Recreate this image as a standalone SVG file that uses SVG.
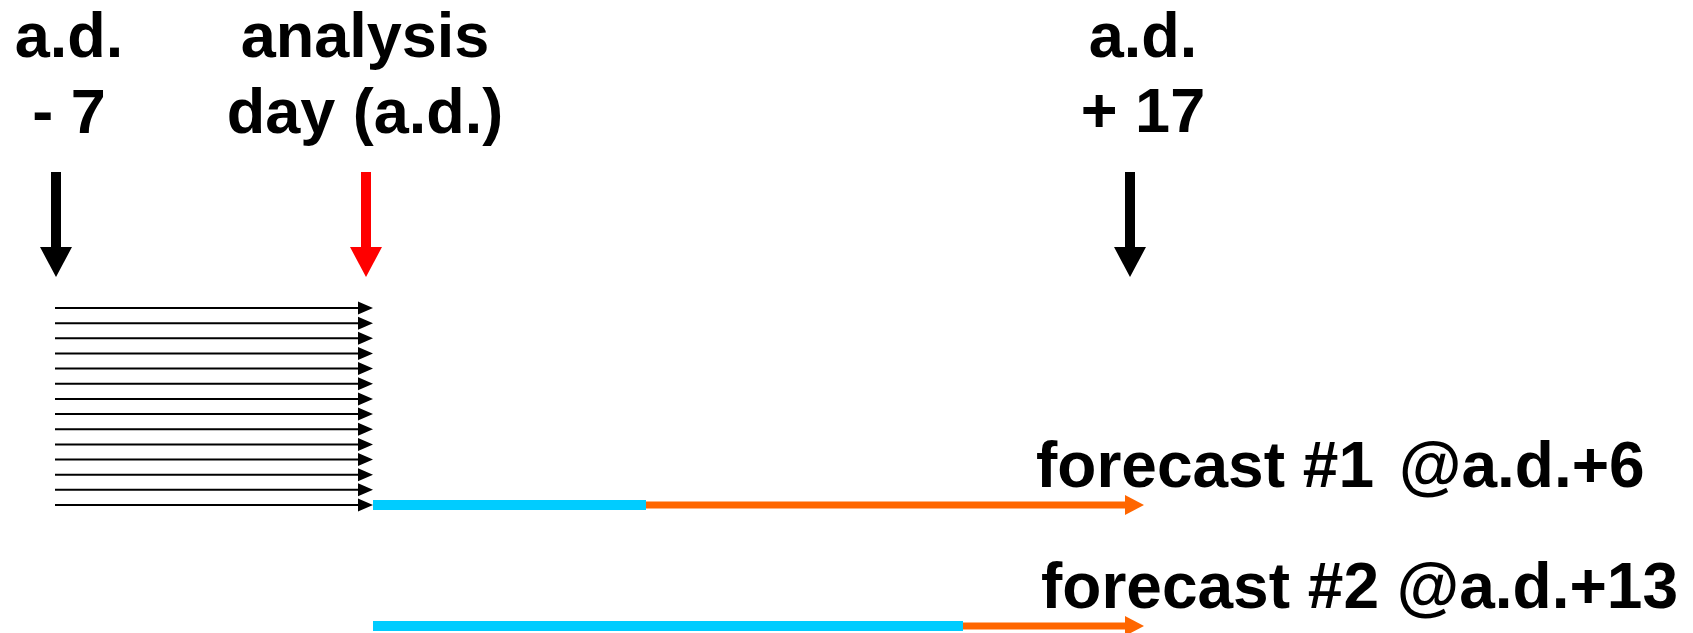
<svg xmlns="http://www.w3.org/2000/svg" width="1693" height="633" viewBox="0 0 1693 633">
  <style>
    .t { font-family: "Liberation Sans", Arial, sans-serif; font-weight: bold; font-size: 63px; fill: #000; }
    .tf { font-family: "Liberation Sans", Arial, sans-serif; font-weight: bold; font-size: 64px; fill: #000; }
    .ens { stroke: #000; stroke-width: 2; fill: none; }
    .cyan { stroke: #00CCFF; stroke-width: 10; fill: none; }
    .orange { stroke: #FF6600; stroke-width: 7; fill: none; }
  </style>
  <defs>
    <marker id="headBlack" markerUnits="userSpaceOnUse" markerWidth="15" markerHeight="14" refX="0" refY="7" orient="auto" overflow="visible">
      <path d="M0,0.5 L15,7 L0,13.5 Z" fill="#000"/>
    </marker>
  </defs>
  <rect width="1693" height="633" fill="#fff"/>

  <g id="label-ad-minus7">
    <text class="t" x="69" y="57" text-anchor="middle">a.d.</text>
    <text class="t" x="69" y="133" text-anchor="middle">- 7</text>
  </g>
  <g id="label-analysis-day">
    <text class="t" x="365" y="57" text-anchor="middle">analysis</text>
    <text class="t" x="365" y="133" text-anchor="middle">day (a.d.)</text>
  </g>
  <g id="label-ad-plus17">
    <text class="t" x="1143" y="57" text-anchor="middle">a.d.</text>
    <text class="t" x="1143" y="132" text-anchor="middle">+ 17</text>
  </g>
  <g id="label-forecast1">
    <text class="tf" x="1036" y="487">forecast #1 <tspan x="1399">@a.d.+6</tspan></text>
  </g>
  <g id="label-forecast2">
    <text class="tf" x="1041" y="608">forecast #2 @a.d.+13</text>
  </g>

  <g id="connectors">
    <g id="arrow-ad-minus7">
      <rect x="51" y="172" width="10" height="76" fill="#000"/>
      <polygon points="40,247 72,247 56,277" fill="#000"/>
    </g>
    <g id="arrow-analysis">
      <rect x="361" y="172" width="10" height="76" fill="#FF0000"/>
      <polygon points="350,247 382,247 366,277" fill="#FF0000"/>
    </g>
    <g id="arrow-ad-plus17">
      <rect x="1125" y="172" width="10" height="76" fill="#000"/>
      <polygon points="1114,247 1146,247 1130,277" fill="#000"/>
    </g>

    <g id="ensemble">
      <line class="ens" x1="55" y1="308" x2="358" y2="308" marker-end="url(#headBlack)"/>
      <line class="ens" x1="55" y1="323.2" x2="358" y2="323.2" marker-end="url(#headBlack)"/>
      <line class="ens" x1="55" y1="338.3" x2="358" y2="338.3" marker-end="url(#headBlack)"/>
      <line class="ens" x1="55" y1="353.5" x2="358" y2="353.5" marker-end="url(#headBlack)"/>
      <line class="ens" x1="55" y1="368.6" x2="358" y2="368.6" marker-end="url(#headBlack)"/>
      <line class="ens" x1="55" y1="383.8" x2="358" y2="383.8" marker-end="url(#headBlack)"/>
      <line class="ens" x1="55" y1="398.9" x2="358" y2="398.9" marker-end="url(#headBlack)"/>
      <line class="ens" x1="55" y1="414.1" x2="358" y2="414.1" marker-end="url(#headBlack)"/>
      <line class="ens" x1="55" y1="429.2" x2="358" y2="429.2" marker-end="url(#headBlack)"/>
      <line class="ens" x1="55" y1="444.4" x2="358" y2="444.4" marker-end="url(#headBlack)"/>
      <line class="ens" x1="55" y1="459.5" x2="358" y2="459.5" marker-end="url(#headBlack)"/>
      <line class="ens" x1="55" y1="474.7" x2="358" y2="474.7" marker-end="url(#headBlack)"/>
      <line class="ens" x1="55" y1="489.8" x2="358" y2="489.8" marker-end="url(#headBlack)"/>
      <line class="ens" x1="55" y1="505" x2="358" y2="505" marker-end="url(#headBlack)"/>
    </g>

    <g id="forecast1-line">
      <line class="cyan" x1="373" y1="505" x2="646" y2="505"/>
      <line class="orange" x1="646" y1="505" x2="1126" y2="505"/>
      <polygon points="1125,495 1144,505 1125,515" fill="#FF6600"/>
    </g>
    <g id="forecast2-line">
      <line class="cyan" x1="373" y1="626" x2="963" y2="626"/>
      <line class="orange" x1="963" y1="626" x2="1126" y2="626"/>
      <polygon points="1125,616 1144,626 1125,636" fill="#FF6600"/>
    </g>
  </g>
</svg>
